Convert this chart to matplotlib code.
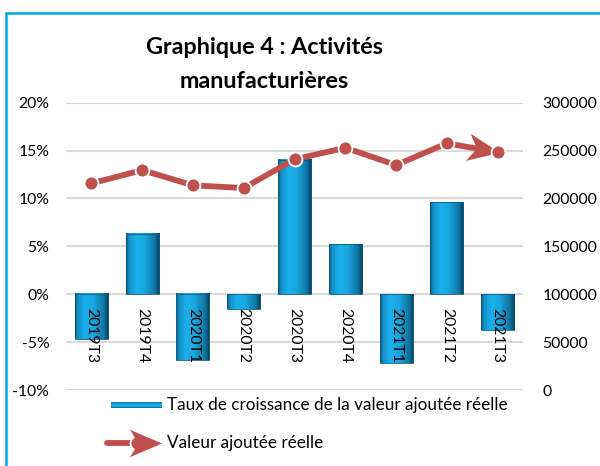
import numpy as np
import matplotlib
matplotlib.use('Agg')
import matplotlib.pyplot as plt
from matplotlib.colors import LinearSegmentedColormap
from matplotlib.markers import MarkerStyle
from matplotlib.path import Path
from matplotlib.patches import Rectangle
from matplotlib.lines import Line2D
from matplotlib.transforms import Affine2D
from matplotlib.ticker import FuncFormatter

quarters = ['2019T3', '2019T4', '2020T1', '2020T2', '2020T3', '2020T4', '2021T1', '2021T2', '2021T3']
growth_rate = [-4.7, 6.3, -6.9, -1.5, 14.0, 5.2, -7.2, 9.6, -3.7]
value_added = [215700, 229600, 213700, 210900, 240800, 252900, 234900, 257500, 248400]

title_lines = ['Graphique 4 : Activités', 'manufacturières']
bar_label = 'Taux de croissance de la valeur ajoutée réelle'
line_label = 'Valeur ajoutée réelle'

plt.rcParams['font.family'] = ['Lato', 'DejaVu Sans']

W, H = 600, 466
RED = '#C0504D'
GRID = '#D9D9D9'
TICK_FS = 11.3

bar_cmap = LinearSegmentedColormap.from_list(
    'cyl', [(0.0, '#0A5577'), (0.08, '#1390C6'), (0.3, '#1BB0EA'),
            (0.55, '#1AA6DF'), (0.85, '#0F77A4'), (1.0, '#083E58')])

fig = plt.figure(figsize=(W / 100, H / 100), dpi=100)
fig.patch.set_facecolor('white')
ax = fig.add_axes([66 / W, 1 - 390 / H, (523 - 66) / W, (390 - 102.7) / H])
ax2 = ax.twinx()

x = np.arange(len(quarters))
bar_w = 0.65

ax.set_ylim(-10, 20)
ax.set_yticks(np.arange(-10, 21, 5))
ax.yaxis.set_major_formatter(FuncFormatter(lambda v, p: f'{v:.0f}%'))
ax.grid(axis='y', color=GRID, linewidth=1.5)
ax.set_axisbelow(True)

grad = np.linspace(0, 1, 64).reshape(1, -1)
for xi, g in zip(x, growth_rate):
    ax.imshow(grad, extent=[xi - bar_w / 2, xi + bar_w / 2, min(0, g), max(0, g)],
              cmap=bar_cmap, aspect='auto', zorder=2, interpolation='bilinear')
    ax.add_patch(Rectangle((xi - bar_w / 2, min(0, g)), bar_w, abs(g), fill=False,
                           edgecolor='#0B5F86', linewidth=0.6, zorder=3))
ax.set_xlim(-0.5, len(quarters) - 0.5)
ax.set_ylim(-10, 20)

# category labels sit just under the zero line, drawn over the bars
ax.set_xticks([])
for xi, q in zip(x, quarters):
    ax.annotate(q, (xi, 0), xytext=(0, -10), textcoords='offset points',
                rotation=-90, ha='center', va='top', fontsize=TICK_FS, zorder=6)

ax.tick_params(axis='y', length=0, pad=12, labelsize=TICK_FS)
for s in ax.spines.values():
    s.set_visible(False)

ax2.set_ylim(0, 300000)
ax2.set_yticks(np.arange(0, 300001, 50000))
ax2.tick_params(axis='y', length=0, pad=14, labelsize=TICK_FS)
for s in ax2.spines.values():
    s.set_visible(False)

ax2.plot(x, value_added, color=RED, linewidth=4.2, marker='o', markersize=10,
         markerfacecolor=RED, markeredgecolor='white', markeredgewidth=1.3,
         solid_capstyle='round', zorder=5)

# arrow head at the end of the line (stealth shape)
stealth = Path([(0.05, 0), (-1, 0.45), (-0.72, 0), (-1, -0.45), (0.05, 0)],
               [Path.MOVETO, Path.LINETO, Path.LINETO, Path.LINETO, Path.CLOSEPOLY])
p0 = ax2.transData.transform((x[-2], value_added[-2]))
p1 = ax2.transData.transform((x[-1], value_added[-1]))
angle = np.degrees(np.arctan2(p1[1] - p0[1], p1[0] - p0[0]))
head = MarkerStyle(stealth, transform=Affine2D().rotate_deg(angle))
ax2.plot([x[-1]], [value_added[-1]], linestyle='none', marker=head, markersize=44,
         color=RED, markeredgewidth=0, zorder=4)

fig.text(264 / W, 1 - 48 / H, title_lines[0], ha='center', va='center',
         fontsize=16.8, fontweight='bold')
fig.text(264 / W, 1 - 82 / H, title_lines[1], ha='center', va='center',
         fontsize=16.8, fontweight='bold')

# legend
leg_bar = fig.add_axes([111 / W, 1 - 408 / H, 51 / W, 6 / H])
leg_bar.imshow(np.linspace(0.1, 0.9, 32).reshape(-1, 1)[::-1] * np.ones((1, 8)),
               cmap=bar_cmap, aspect='auto', interpolation='bilinear')
leg_bar.axis('off')
fig.text(167 / W, 1 - 405 / H, bar_label, ha='left', va='center', fontsize=12.3)

fig.add_artist(Line2D([107 / W, 140 / W], [1 - 443 / H, 1 - 443 / H], transform=fig.transFigure,
                      color=RED, linewidth=4.2, solid_capstyle='round'))
fig.add_artist(Line2D([137 / W], [1 - 443 / H], transform=fig.transFigure, color=RED,
                      marker='o', markersize=10, markeredgecolor='white', markeredgewidth=1.3))
fig.add_artist(Line2D([160 / W], [1 - 443 / H], transform=fig.transFigure, color=RED,
                      marker=MarkerStyle(stealth), markersize=44, markeredgewidth=0))
fig.text(167 / W, 1 - 443 / H, line_label, ha='left', va='center', fontsize=12.3)

# chart frame
fig.add_artist(Rectangle((6 / W, -0.1), 1.2, 1 - 13 / H + 0.1, transform=fig.transFigure,
                         fill=False, edgecolor='#00A8E8', linewidth=1.8))

fig.savefig('out.png', dpi=100)
